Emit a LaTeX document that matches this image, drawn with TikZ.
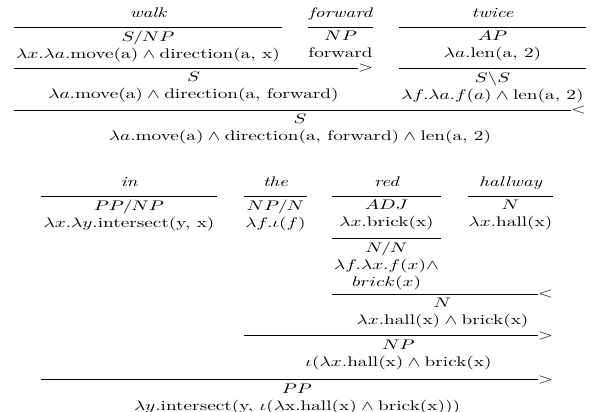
\documentclass[tikz,border=0pt]{standalone}
\usepackage{amsmath,amssymb}
\usepackage{tikz}
\usetikzlibrary{positioning}

\begin{document}
\begin{tikzpicture}[
  x=0.52pt, y=-0.72pt, xscale=1.385,
  every node/.append style={transform shape},
  cell/.style={align=center,anchor=north,inner xsep=0pt,inner ysep=3pt},
  span/.style={minimum width=#1*0.52pt},
  word/.style={font=\itshape,inner sep=0pt,text depth=0pt},
  bar/.style={line width=0.6pt},
  dir/.style={inner sep=0pt,anchor=east}]
\useasboundingbox (0,0) rectangle (592,412);
% walk forward twice
\node[cell,span=268] (walkc) at (148,27) {$S/NP$\\$\lambda x.\lambda a.\text{move(a)}\wedge\text{direction(a, x)}$};
\node[cell,span=65] (fwdc) at (340.5,27) {$NP$\\forward};
\node[cell,span=186] (twicec) at (492.5,27) {$AP$\\$\lambda a.\text{len(a, 2)}$};
\node[word,above=6.5pt of walkc] (walk) {walk};
\node[word,above=6.5pt of fwdc] (fwd) {forward};
\node[word,above=6.5pt of twicec] (twice) {twice};
\node[cell,span=186] (twicem) at (492.5,68) {$S\backslash S$\\$\lambda f.\lambda a.f(a)\wedge\text{len(a, 2)}$};
\node[cell,span=359] (vpc) at (193.5,68) {$S$\\$\lambda a.\text{move(a)}\wedge\text{direction(a, forward)}$};
\node[cell,span=572] (sc) at (300,110) {$S$\\$\lambda a.\text{move(a)}\wedge\text{direction(a, forward)}\wedge\text{len(a, 2)}$};
% in the red hallway
\node[cell,span=176] (inc) at (129,196) {$PP/NP$\\$\lambda x.\lambda y.\text{intersect(y, x)}$};
\node[cell,span=63] (thec) at (275.5,196) {$NP/N$\\$\lambda f.\iota(f)$};
\node[cell,span=109] (redc) at (386.5,196) {$ADJ$\\$\lambda x.\text{brick(x)}$};
\node[cell,span=85] (hallc) at (510.5,196) {$N$\\$\lambda x.\text{hall(x)}$};
\node[word,above=6.5pt of inc] (in) {in};
\node[word,above=6.5pt of thec] (the) {the};
\node[word,above=6.5pt of redc] (red) {red};
\node[word,above=6.5pt of hallc] (hall) {hallway};
\node[cell,span=109] (redm) at (386.5,238) {$N/N$\\$\lambda f.\lambda x.f(x)\wedge$\\$brick(x)$};
\node[cell,span=221] (nc) at (442.5,294) {$N$\\$\lambda x.\text{hall(x)}\wedge\text{brick(x)}$};
\node[cell,span=309] (npc) at (398.5,336) {$NP$\\$\iota(\lambda x.\text{hall(x)}\wedge\text{brick(x)}$};
\node[cell,span=512] (ppc) at (297,380) {$PP$\\$\lambda y.\text{intersect(y, }\iota(\lambda\text{x.hall(x)}\wedge\text{brick(x)))}$};
\foreach \c in {walkc,fwdc,twicec,twicem,inc,thec,redc,hallc,redm}{\draw[bar] (\c.north west) -- (\c.north east);}
\foreach \c/\o in {vpc/>,sc/<,nc/<,npc/>,ppc/>}{
  \node[dir] (\c op) at (\c.north east) {$\o$};
  \draw[bar] (\c.north west) -- (\c op.west);}
\end{tikzpicture}
\end{document}
